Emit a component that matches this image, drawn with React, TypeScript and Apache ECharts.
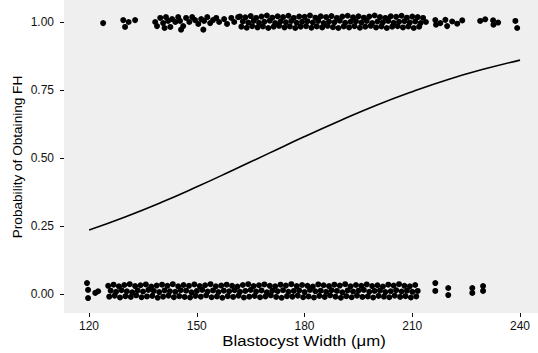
import React, { useEffect, useRef } from "react";
import * as echarts from "echarts";

const xTicks = [120, 150, 180, 210, 240];
const yTicks = [0, 0.25, 0.5, 0.75, 1];

const curveX = [120, 130, 140, 150, 160, 170, 180, 190, 200, 210, 220, 230, 240];
const curveY = [0.235, 0.283, 0.336, 0.394, 0.455, 0.517, 0.579, 0.638, 0.694, 0.744, 0.789, 0.827, 0.86];

const topSparse = [
  [123.9, 0.996], [129.5, 1.007], [130.0, 0.982], [132.8, 1.007], [131.0, 1.0],
  [216.4, 1.007], [216.6, 0.99], [217.8, 0.996], [219.2, 1.008], [219.7, 0.985], [221.1, 1.002],
  [222.5, 0.994], [223.9, 1.006], [228.9, 1.004], [230.3, 1.01], [232.5, 1.006], [232.6, 0.99],
  [233.9, 0.998], [238.7, 1.004], [239.2, 0.978],
];

const topCluster = [
  [138.4, 1.0], [138.9, 0.985], [139.8, 1.015], [140.6, 0.996], [141.4, 1.018], [142.0, 1.004],
  [142.6, 0.982], [143.1, 1.011], [144.0, 1.0], [144.8, 1.018], [145.3, 1.004], [146.2, 0.985],
  [147.0, 1.015], [147.9, 1.0], [148.7, 1.018], [149.5, 1.007], [150.4, 0.993], [151.2, 1.011],
  [152.0, 1.004], [152.9, 1.018], [153.7, 0.996], [154.5, 1.007], [155.4, 1.015], [156.2, 1.0],
  [157.6, 1.011], [158.4, 0.993], [159.6, 1.015], [160.4, 1.0], [161.5, 1.018],
  [145.6, 0.972], [151.8, 0.972], [141.0, 0.978],
];

const topDense = [
  [162.0, 1.02], [163.5, 1.017], [165.0, 1.022], [166.5, 1.015], [168.0, 1.02], [169.5, 1.024],
  [171.0, 1.016], [172.5, 1.021], [174.0, 1.018], [175.5, 1.023], [177.0, 1.015], [178.5, 1.02],
  [180.0, 1.019], [181.5, 1.024], [183.0, 1.016], [184.5, 1.021], [186.0, 1.018], [187.5, 1.022],
  [189.0, 1.015], [190.5, 1.02], [192.0, 1.023], [193.5, 1.017], [195.0, 1.021], [196.5, 1.016],
  [198.0, 1.02], [199.5, 1.024], [201.0, 1.018], [202.5, 1.015], [204.0, 1.021], [205.5, 1.019],
  [207.0, 1.023], [208.5, 1.016], [210.0, 1.02], [211.5, 1.018], [213.0, 1.015],
  [162.8, 1.002], [164.3, 0.998], [165.8, 1.004], [167.3, 0.997], [168.8, 1.001], [170.3, 1.005],
  [171.8, 0.996], [173.3, 1.002], [174.8, 0.999], [176.3, 1.004], [177.8, 0.997], [179.3, 1.001],
  [180.8, 1.003], [182.3, 0.998], [183.8, 1.004], [185.3, 0.996], [186.8, 1.002], [188.3, 0.999],
  [189.8, 1.005], [191.3, 0.997], [192.8, 1.001], [194.3, 1.003], [195.8, 0.998], [197.3, 1.004],
  [198.8, 0.996], [200.3, 1.002], [201.8, 0.999], [203.3, 1.004], [204.8, 0.997], [206.3, 1.001],
  [207.8, 1.003], [209.3, 0.998], [210.8, 1.002], [212.3, 0.996], [213.8, 1.0],
  [162.4, 0.983], [163.9, 0.979], [165.4, 0.985], [166.9, 0.98], [168.4, 0.984], [169.9, 0.978],
  [171.4, 0.983], [172.9, 0.986], [174.4, 0.98], [175.9, 0.984], [177.4, 0.978], [178.9, 0.983],
  [180.4, 0.985], [181.9, 0.979], [183.4, 0.984], [184.9, 0.98], [186.4, 0.986], [187.9, 0.981],
  [189.4, 0.978], [190.9, 0.984], [192.4, 0.98], [193.9, 0.985], [195.4, 0.979], [196.9, 0.983],
  [198.4, 0.986], [199.9, 0.98], [201.4, 0.984], [202.9, 0.978], [204.4, 0.983], [205.9, 0.985],
  [207.4, 0.98], [208.9, 0.984], [210.4, 0.978], [211.9, 0.983],
];

const bottomSparse = [
  [119.4, 0.04], [119.7, 0.015], [119.7, -0.015], [121.7, 0.004], [122.5, 0.01],
  [216.4, 0.04], [216.4, 0.011], [220.0, 0.022], [220.0, -0.004], [226.7, 0.022],
  [226.7, 0.004], [229.7, 0.029], [229.7, 0.011],
];

const bottomDense = [
  [125.3, 0.03], [126.8, 0.034], [128.3, 0.028], [129.8, 0.033], [131.3, 0.036], [132.8, 0.029],
  [134.3, 0.032], [135.8, 0.035], [137.3, 0.027], [138.8, 0.031], [140.3, 0.034], [141.8, 0.03],
  [143.3, 0.036], [144.8, 0.028], [146.3, 0.033], [147.8, 0.03], [149.3, 0.035], [150.8, 0.029],
  [152.3, 0.032], [153.8, 0.036], [155.3, 0.028], [156.8, 0.031], [158.3, 0.034], [159.8, 0.03],
  [161.3, 0.027], [162.8, 0.033], [164.3, 0.036], [165.8, 0.029], [167.3, 0.032], [168.8, 0.035],
  [170.3, 0.03], [171.8, 0.028], [173.3, 0.034], [174.8, 0.031], [176.3, 0.036], [177.8, 0.029],
  [179.3, 0.033], [180.8, 0.03], [182.3, 0.027], [183.8, 0.035], [185.3, 0.032], [186.8, 0.029],
  [188.3, 0.034], [189.8, 0.031], [191.3, 0.036], [192.8, 0.028], [194.3, 0.033], [195.8, 0.03],
  [197.3, 0.035], [198.8, 0.029], [200.3, 0.032], [201.8, 0.027], [203.3, 0.034], [204.8, 0.031],
  [206.3, 0.036], [207.8, 0.03], [209.3, 0.028], [210.8, 0.033],
  [126.0, 0.012], [127.5, 0.008], [129.0, 0.014], [130.5, 0.01], [132.0, 0.006], [133.5, 0.013],
  [135.0, 0.009], [136.5, 0.015], [138.0, 0.011], [139.5, 0.007], [141.0, 0.013], [142.5, 0.01],
  [144.0, 0.008], [145.5, 0.014], [147.0, 0.012], [148.5, 0.006], [150.0, 0.011], [151.5, 0.015],
  [153.0, 0.009], [154.5, 0.013], [156.0, 0.007], [157.5, 0.012], [159.0, 0.01], [160.5, 0.014],
  [162.0, 0.008], [163.5, 0.011], [165.0, 0.015], [166.5, 0.009], [168.0, 0.013], [169.5, 0.006],
  [171.0, 0.012], [172.5, 0.01], [174.0, 0.014], [175.5, 0.008], [177.0, 0.011], [178.5, 0.013],
  [180.0, 0.007], [181.5, 0.015], [183.0, 0.01], [184.5, 0.012], [186.0, 0.008], [187.5, 0.014],
  [189.0, 0.011], [190.5, 0.006], [192.0, 0.013], [193.5, 0.009], [195.0, 0.012], [196.5, 0.015],
  [198.0, 0.008], [199.5, 0.011], [201.0, 0.013], [202.5, 0.007], [204.0, 0.01], [205.5, 0.014],
  [207.0, 0.009], [208.5, 0.012], [210.0, 0.008], [211.5, 0.011],
  [125.6, -0.01], [127.1, -0.006], [128.6, -0.013], [130.1, -0.008], [131.6, -0.011], [133.1, -0.005],
  [134.6, -0.012], [136.1, -0.009], [137.6, -0.007], [139.1, -0.014], [140.6, -0.01], [142.1, -0.006],
  [143.6, -0.012], [145.1, -0.008], [146.6, -0.011], [148.1, -0.013], [149.6, -0.007], [151.1, -0.01],
  [152.6, -0.005], [154.1, -0.012], [155.6, -0.009], [157.1, -0.014], [158.6, -0.008], [160.1, -0.011],
  [161.6, -0.006], [163.1, -0.013], [164.6, -0.01], [166.1, -0.007], [167.6, -0.012], [169.1, -0.009],
  [170.6, -0.005], [172.1, -0.011], [173.6, -0.014], [175.1, -0.008], [176.6, -0.01], [178.1, -0.006],
  [179.6, -0.012], [181.1, -0.009], [182.6, -0.013], [184.1, -0.007], [185.6, -0.011], [187.1, -0.005],
  [188.6, -0.01], [190.1, -0.014], [191.6, -0.008], [193.1, -0.012], [194.6, -0.006], [196.1, -0.011],
  [197.6, -0.009], [199.1, -0.013], [200.6, -0.007], [202.1, -0.01], [203.6, -0.012], [205.1, -0.006],
  [206.6, -0.011], [208.1, -0.008], [209.6, -0.013], [211.1, -0.009],
];

const FONT = "'Liberation Sans', Arial, sans-serif";

export default function App() {
  const ref = useRef<HTMLDivElement>(null);
  useEffect(() => {
    if (!ref.current) return;
    const chart = echarts.init(ref.current, null, { renderer: "svg" });
    const pointStyle = { color: "#000", opacity: 1 };
    const hidden = {
      axisLine: { show: false },
      axisTick: { show: false },
      axisLabel: { show: false },
      splitLine: { show: false },
    };
    const tickStyle = { show: true, length: 4, lineStyle: { color: "#111", width: 1 } };
    const labelStyle = { fontSize: 12, color: "#111", fontFamily: FONT };
    chart.setOption({
      animation: false,
      backgroundColor: "#ffffff",
      textStyle: { fontFamily: FONT },
      grid: [
        // plot panel
        { left: 64, right: 0, top: 0, bottom: 40, show: true, backgroundColor: "#efefef", borderWidth: 0 },
        // x tick grid (120..240 span)
        { left: 89, right: 18, top: 0, bottom: 40, show: false },
        // y tick grid (0..1 span)
        { left: 64, right: 0, top: 22, bottom: 59, show: false },
      ],
      xAxis: [
        { type: "value", gridIndex: 0, min: 113, max: 245, ...hidden },
        {
          type: "value",
          gridIndex: 1,
          min: 120,
          max: 240,
          interval: 30,
          axisLine: { show: false },
          splitLine: { show: false },
          axisTick: tickStyle,
          axisLabel: { ...labelStyle, margin: 7 },
        },
        { type: "value", gridIndex: 2, min: 0, max: 1, ...hidden },
      ],
      yAxis: [
        { type: "value", gridIndex: 0, min: -0.07, max: 1.081, ...hidden },
        { type: "value", gridIndex: 1, min: 0, max: 1, ...hidden },
        {
          type: "value",
          gridIndex: 2,
          min: 0,
          max: 1,
          interval: 0.25,
          axisLine: { show: false },
          splitLine: { show: false },
          axisTick: tickStyle,
          axisLabel: { ...labelStyle, margin: 10, formatter: (v: number) => v.toFixed(2) },
        },
      ],
      series: [
        {
          type: "scatter",
          xAxisIndex: 0,
          yAxisIndex: 0,
          data: [...topSparse, ...topCluster, ...topDense],
          symbolSize: 6,
          itemStyle: pointStyle,
        },
        {
          type: "scatter",
          xAxisIndex: 0,
          yAxisIndex: 0,
          data: [...bottomSparse, ...bottomDense],
          symbolSize: 6,
          itemStyle: pointStyle,
        },
        {
          type: "line",
          xAxisIndex: 0,
          yAxisIndex: 0,
          data: curveX.map((x, i) => [x, curveY[i]]),
          symbol: "none",
          smooth: true,
          lineStyle: { color: "#000", width: 1.6 },
        },
      ],
      graphic: [
        {
          type: "text",
          x: 304,
          y: 341,
          scaleX: 1.12,
          style: {
            text: "Blastocyst Width (μm)",
            fontSize: 15,
            fontFamily: FONT,
            fill: "#000",
            textAlign: "center",
            textVerticalAlign: "middle",
          },
        },
        {
          type: "text",
          x: 17,
          y: 157,
          rotation: Math.PI / 2,
          style: {
            text: "Probability of Obtaining FH",
            fontSize: 13.6,
            fontFamily: FONT,
            fill: "#000",
            textAlign: "center",
            textVerticalAlign: "middle",
          },
        },
      ],
    });
    return () => chart.dispose();
  }, []);
  return (
    <div
      ref={ref}
      style={{ width: 538, height: 353, position: "fixed", left: 0, top: 0 }}
    />
  );
}
